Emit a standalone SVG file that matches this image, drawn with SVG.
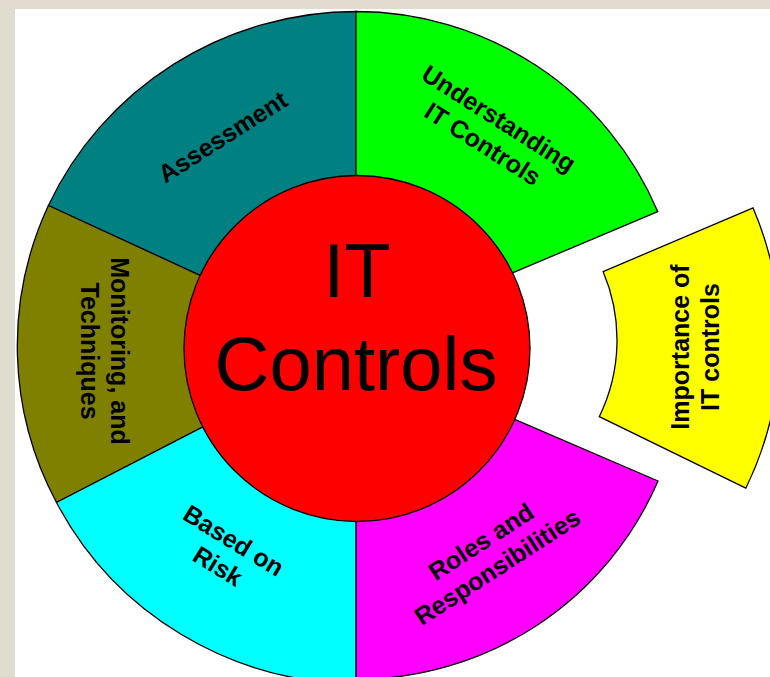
<svg xmlns="http://www.w3.org/2000/svg" width="770" height="677" viewBox="0 0 770 677">
<style>
.seg{stroke:#000;stroke-width:1.3;stroke-linejoin:miter}
.lbl{font-family:"Liberation Sans",Arial,sans-serif;font-weight:bold;font-size:25px;fill:#000;text-anchor:middle}
.big{font-family:"Liberation Sans",Arial,sans-serif;font-size:76px;fill:#000;text-anchor:middle}
</style>
<rect x="0" y="0" width="770" height="677" fill="#e1dccf"/>
<rect x="15" y="9" width="755" height="668" fill="#ffffff"/>
<g id="connectors"/>
<g id="assessment">
<path class="seg" fill="#008080" d="M356.5 347.5 L48.4 205.5 A340 336 0 0 1 356.5 11.5 Z"/>
<g transform="translate(222.5,136.5) rotate(-32.5)"><text class="lbl" x="0" y="9">Assessment</text></g>
</g>
<g id="monitoring">
<path class="seg" fill="#808000" d="M356.5 347.5 L56.5 502.5 A340 336 0 0 1 48.4 205.5 Z"/>
<g transform="translate(105,351) rotate(90)"><text class="lbl" x="0" y="-6">Monitoring, and</text><text class="lbl" x="0" y="24">Techniques</text></g>
</g>
<g id="based-on-risk">
<path class="seg" fill="#00ffff" d="M356.5 347.5 L356.5 683.5 A340 336 0 0 1 56.5 502.5 Z"/>
<g transform="translate(226,553) rotate(31.5)"><text class="lbl" x="0" y="-6">Based on</text><text class="lbl" x="0" y="24">Risk</text></g>
</g>
<g id="understanding">
<path class="seg" fill="#00ff00" d="M356 339 L356 11.5 A327.5 327.5 0 0 1 657.7 211.6 Z"/>
<g transform="translate(491,131) rotate(32.5)"><text class="lbl" x="0" y="-6">Understanding</text><text class="lbl" x="0" y="24">IT Controls</text></g>
</g>
<g id="roles">
<path class="seg" fill="#ff00ff" d="M356 351.3 L658 481 A328 328 0 0 1 356 679.3 Z"/>
<g transform="translate(489,554) rotate(-33)"><text class="lbl" x="0" y="-6">Roles and</text><text class="lbl" x="0" y="24">Responsibilities</text></g>
</g>
<g id="importance">
<path class="seg" fill="#ffff00" d="M603.1 271.6 L753.1 207.9 A338 338 0 0 1 745.8 488.2 L599.3 416.7 A175 175 0 0 0 603.1 271.6 Z"/>
<g transform="translate(694.5,347) rotate(-90)"><text class="lbl" x="0" y="-6">Importance of</text><text class="lbl" x="0" y="24">IT controls</text></g>
</g>
<g id="it-controls">
<circle class="seg" fill="#ff0000" cx="357" cy="348.5" r="173"/>
<text class="big" x="357" y="296.5">IT</text>
<text class="big" x="356" y="390">Controls</text>
</g>
</svg>
